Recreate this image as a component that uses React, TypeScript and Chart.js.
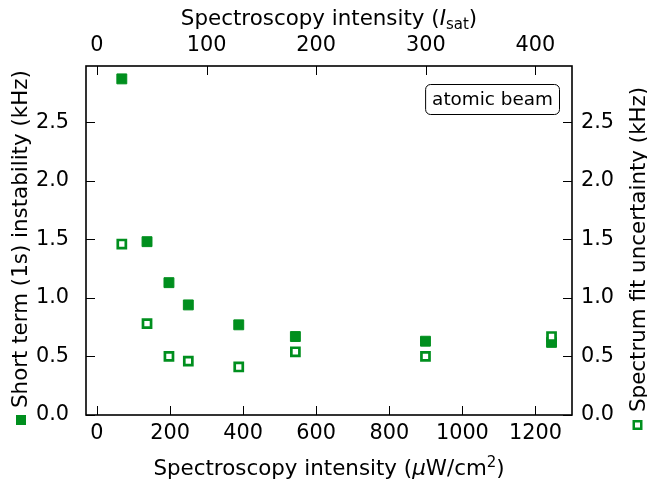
import React, { useEffect, useRef } from 'react';
import { Chart, registerables } from 'chart.js';
Chart.register(...registerables);

const intensityUW = [68, 137, 197, 250, 388, 543, 899, 1244];
const shortTermKHz = [2.87, 1.48, 1.13, 0.94, 0.77, 0.67, 0.63, 0.62];
const fitUncertaintyKHz = [1.46, 0.78, 0.5, 0.46, 0.41, 0.54, 0.5, 0.67];
const bottomTicks = [0, 200, 400, 600, 800, 1000, 1200];
const topTicks = [0, 100, 200, 300, 400];
const yTicks = [0, 0.5, 1.0, 1.5, 2.0, 2.5];
const UW_PER_ISAT = 3;
const X_MIN = -30;
const X_MAX = 1300;
const Y_MIN = 0;
const Y_MAX = 2.98;

const GREEN = 'rgb(0,143,30)';
const FONT = 'DejaVu Sans';
const FS = 20.8;
const TFS = 21.4;
const BOX_FS = 18.4;

type Seg = { t: string; italic?: boolean; scale?: number; dy?: number };

function segFont(s: Seg) {
  return `${s.italic ? 'italic ' : ''}${TFS * (s.scale || 1)}px "${FONT}"`;
}

function drawRich(ctx: CanvasRenderingContext2D, segs: Seg[], cx: number, baseY: number) {
  let total = 0;
  for (const s of segs) {
    ctx.font = segFont(s);
    total += ctx.measureText(s.t).width;
  }
  let x = cx - total / 2;
  ctx.textBaseline = 'alphabetic';
  ctx.textAlign = 'left';
  for (const s of segs) {
    ctx.font = segFont(s);
    ctx.fillText(s.t, x, baseY + (s.dy || 0));
    x += ctx.measureText(s.t).width;
  }
}

const decorPlugin = {
  id: 'decor',
  afterDraw(chart: any) {
    const { ctx, chartArea: a, scales } = chart;
    ctx.save();
    // inward ticks
    const L = 9;
    ctx.strokeStyle = '#000';
    ctx.lineWidth = 1;
    ctx.beginPath();
    scales.x.ticks.forEach((t: any) => {
      const p = Math.round(scales.x.getPixelForValue(t.value)) + 0.5;
      ctx.moveTo(p, a.bottom);
      ctx.lineTo(p, a.bottom - L);
    });
    scales.x2.ticks.forEach((t: any) => {
      const p = Math.round(scales.x2.getPixelForValue(t.value)) + 0.5;
      ctx.moveTo(p, a.top);
      ctx.lineTo(p, a.top + L);
    });
    scales.y.ticks.forEach((t: any) => {
      const p = Math.round(scales.y.getPixelForValue(t.value)) + 0.5;
      ctx.moveTo(a.left, p);
      ctx.lineTo(a.left + L, p);
    });
    scales.y2.ticks.forEach((t: any) => {
      const p = Math.round(scales.y2.getPixelForValue(t.value)) + 0.5;
      ctx.moveTo(a.right, p);
      ctx.lineTo(a.right - L, p);
    });
    ctx.stroke();
    // frame
    ctx.lineWidth = 1.6;
    ctx.strokeRect(a.left, a.top, a.right - a.left, a.bottom - a.top);

    ctx.fillStyle = '#000';
    const midX = (a.left + a.right) / 2;
    // top title
    drawRich(
      ctx,
      [
        { t: 'Spectroscopy intensity (' },
        { t: 'I', italic: true },
        { t: 'sat', scale: 0.7, dy: 4 },
        { t: ')' },
      ],
      midX,
      25
    );
    // bottom title
    drawRich(
      ctx,
      [
        { t: 'Spectroscopy intensity (' },
        { t: 'μ', italic: true },
        { t: 'W/cm' },
        { t: '2', scale: 0.7, dy: -8 },
        { t: ')' },
      ],
      midX,
      475
    );

    // left rotated label with filled marker
    ctx.font = `${TFS}px "${FONT}"`;
    ctx.save();
    ctx.translate(26.7, 425);
    ctx.rotate(-Math.PI / 2);
    ctx.fillStyle = GREEN;
    ctx.fillRect(0, -10.7, 10, 10);
    ctx.fillStyle = '#000';
    ctx.textAlign = 'left';
    ctx.textBaseline = 'alphabetic';
    ctx.fillText('Short term (1s) instability (kHz)', 17, 0);
    ctx.restore();

    // right rotated label with open marker
    ctx.save();
    ctx.translate(645, 430);
    ctx.rotate(-Math.PI / 2);
    ctx.fillStyle = '#fff';
    ctx.fillRect(0, -12.5, 10, 10);
    ctx.strokeStyle = GREEN;
    ctx.lineWidth = 2.5;
    ctx.strokeRect(1.25, -11.25, 7.5, 7.5);
    ctx.fillStyle = '#000';
    ctx.textAlign = 'left';
    ctx.textBaseline = 'alphabetic';
    ctx.fillText('Spectrum fit uncertainty (kHz)', 18, 0);
    ctx.restore();

    // annotation box
    const label = 'atomic beam';
    ctx.font = `${BOX_FS}px "${FONT}"`;
    const w = ctx.measureText(label).width + 13;
    const h = 30;
    const bx = a.right - 13 - w;
    const by = a.top + 18;
    ctx.beginPath();
    ctx.roundRect(bx + 0.5, by + 0.5, w, h, 5);
    ctx.fillStyle = '#fff';
    ctx.fill();
    ctx.lineWidth = 1;
    ctx.strokeStyle = '#000';
    ctx.stroke();
    ctx.fillStyle = '#000';
    ctx.textAlign = 'center';
    ctx.textBaseline = 'middle';
    ctx.fillText(label, bx + w / 2 + 0.5, by + h / 2 + 1);

    ctx.restore();
  },
};

export default function App() {
  const ref = useRef<HTMLCanvasElement>(null);
  useEffect(() => {
    if (!ref.current) return;
    const tickFont = { family: FONT, size: FS };
    const chart = new Chart(ref.current, {
      type: 'scatter',
      data: {
        datasets: [
          {
            label: 'Spectrum fit uncertainty',
            data: intensityUW.map((x, i) => ({ x, y: fitUncertaintyKHz[i] })),
            yAxisID: 'y2',
            xAxisID: 'x',
            pointStyle: 'rect',
            pointRadius: 5.7,
            pointBorderWidth: 2.7,
            borderColor: GREEN,
            backgroundColor: '#fff',
          },
          {
            label: 'Short term instability',
            data: intensityUW.map((x, i) => ({ x, y: shortTermKHz[i] })),
            yAxisID: 'y',
            xAxisID: 'x',
            pointStyle: 'rect',
            pointRadius: 7,
            pointBorderWidth: 1,
            borderColor: GREEN,
            backgroundColor: GREEN,
          },
        ],
      },
      options: {
        animation: false,
        responsive: false,
        events: [],
        layout: { padding: 0 },
        plugins: { legend: { display: false }, tooltip: { enabled: false } },
        scales: {
          x: {
            type: 'linear',
            position: 'bottom',
            min: X_MIN,
            max: X_MAX,
            grid: { display: false, drawTicks: false },
            border: { display: false },
            afterBuildTicks: (s: any) => {
              s.ticks = bottomTicks.map((v) => ({ value: v }));
            },
            afterFit: (s: any) => {
              s.height = 65;
            },
            ticks: { font: tickFont, color: '#000', padding: 6, maxRotation: 0, autoSkip: false, callback: (v: any) => String(v) },
          },
          x2: {
            type: 'linear',
            position: 'top',
            min: X_MIN / UW_PER_ISAT,
            max: X_MAX / UW_PER_ISAT,
            grid: { display: false, drawTicks: false },
            border: { display: false },
            afterBuildTicks: (s: any) => {
              s.ticks = topTicks.map((v) => ({ value: v }));
            },
            afterFit: (s: any) => {
              s.height = 66;
            },
            ticks: { font: tickFont, color: '#000', padding: 8, maxRotation: 0, autoSkip: false, callback: (v: any) => String(v) },
          },
          y: {
            type: 'linear',
            position: 'left',
            min: Y_MIN,
            max: Y_MAX,
            grid: { display: false, drawTicks: false },
            border: { display: false },
            afterBuildTicks: (s: any) => {
              s.ticks = yTicks.map((v) => ({ value: v }));
            },
            afterFit: (s: any) => {
              s.width = 86;
            },
            ticks: { font: tickFont, color: '#000', padding: 17, autoSkip: false, callback: (v: any) => Number(v).toFixed(1) },
          },
          y2: {
            type: 'linear',
            position: 'right',
            min: Y_MIN,
            max: Y_MAX,
            grid: { display: false, drawTicks: false },
            border: { display: false },
            afterBuildTicks: (s: any) => {
              s.ticks = yTicks.map((v) => ({ value: v }));
            },
            afterFit: (s: any) => {
              s.width = 75;
            },
            ticks: { font: tickFont, color: '#000', padding: 9, autoSkip: false, callback: (v: any) => Number(v).toFixed(1) },
          },
        },
      },
      plugins: [decorPlugin],
    });
    return () => chart.destroy();
  }, []);
  return (
    <div style={{ position: 'fixed', left: 0, top: 0, width: 647, height: 480, background: '#fff' }}>
      <canvas ref={ref} width={647} height={480} style={{ display: 'block', width: 647, height: 480 }} />
    </div>
  );
}
